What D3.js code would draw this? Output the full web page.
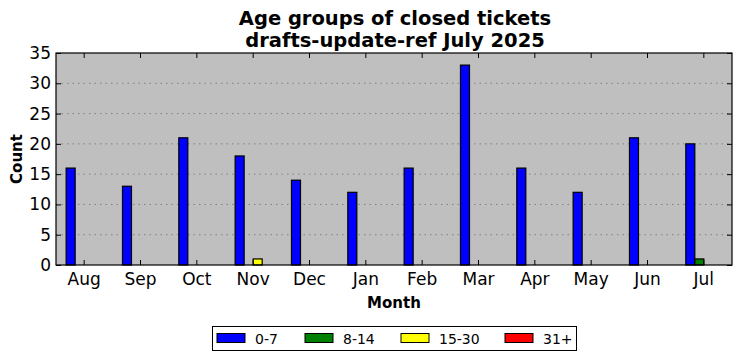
<!DOCTYPE html>
<html><head><meta charset="utf-8">
<script src="https://cdn.jsdelivr.net/npm/d3@7"></script>
<style>body{margin:0;background:#fff}svg{display:block;font-family:"DejaVu Sans",sans-serif}</style>
</head><body><svg id="c" width="742" height="361"></svg>
<script>
const months = ["Aug","Sep","Oct","Nov","Dec","Jan","Feb","Mar","Apr","May","Jun","Jul"];
const seriesNames = ["0-7","8-14","15-30","31+"];
const seriesColors = ["#0000ff","#008000","#ffff00","#ff0000"];
const age0to7 = [16,13,21,18,14,12,16,33,16,12,21,20];
const age8to14 = [0,0,0,0,0,0,0,0,0,0,0,1];
const age15to30 = [0,0,0,1,0,0,0,0,0,0,0,0];
const age31plus = [0,0,0,0,0,0,0,0,0,0,0,0];
const yTicks = [0,5,10,15,20,25,30,35];
const seriesValues = [age0to7, age8to14, age15to30, age31plus];

const svg = d3.select("#c");
const L=56, R=732, T=53, B=265;
const x = d3.scaleBand().domain(months).range([L,R]).padding(0);
const y = d3.scaleLinear().domain([0,35]).range([B,T]);
const bw = x.bandwidth()*0.16;

svg.append("rect").attr("x",L).attr("y",T).attr("width",R-L).attr("height",B-T).attr("fill","#bfbfbf");

// grid
svg.append("g").selectAll("line").data(yTicks.slice(1,-1)).join("line")
  .attr("x1",L).attr("x2",R).attr("y1",d=>y(d)).attr("y2",d=>y(d))
  .attr("stroke","#808080").attr("stroke-width",1).attr("stroke-dasharray","1.5,4");

// bars
seriesValues.forEach((vals,si)=>{
  svg.append("g").selectAll("rect").data(months).join("rect")
    .attr("x",(m)=>x(m)+x.bandwidth()/2-2*bw+si*bw)
    .attr("width",bw)
    .attr("y",(m,i)=>y(vals[i]))
    .attr("height",(m,i)=>y(0)-y(vals[i]))
    .attr("fill",seriesColors[si]).attr("stroke","#000").attr("stroke-width",1.2);
});

// axes frame
svg.append("rect").attr("x",L).attr("y",T).attr("width",R-L).attr("height",B-T).attr("fill","none").attr("stroke","#000").attr("stroke-width",1.2);

const fs = "17px";
const xb = svg.append("g").attr("transform",`translate(0,${B})`).call(d3.axisBottom(x).tickSizeInner(-5).tickSizeOuter(0).tickPadding(8));
const xt = svg.append("g").attr("transform",`translate(0,${T})`).call(d3.axisTop(x).tickSizeInner(-5).tickSizeOuter(0).tickFormat(""));
const yl = svg.append("g").attr("transform",`translate(${L},0)`).call(d3.axisLeft(y).tickValues(yTicks).tickSizeInner(-5).tickSizeOuter(0).tickPadding(5));
const yr = svg.append("g").attr("transform",`translate(${R},0)`).call(d3.axisRight(y).tickValues(yTicks).tickSizeInner(-5).tickSizeOuter(0).tickFormat(""));
[xb,xt,yl,yr].forEach(g=>{
  g.select(".domain").remove();
  g.selectAll("line").attr("stroke","#000");
  g.selectAll("text").attr("font-family","DejaVu Sans").attr("font-size",fs).attr("fill","#000");
});

// titles
const title = svg.append("text").attr("text-anchor","middle").attr("font-weight","bold").attr("font-size","19.5px");
title.append("tspan").attr("x",395).attr("y",25).text("Age groups of closed tickets");
title.append("tspan").attr("x",395).attr("y",47).text("drafts-update-ref July 2025");
svg.append("text").attr("x",394).attr("y",308).attr("text-anchor","middle").attr("font-weight","bold").attr("font-size","15px").text("Month");
svg.append("text").attr("transform","translate(22,159) rotate(-90)").attr("text-anchor","middle").attr("font-weight","bold").attr("font-size","15px").text("Count");

// legend
const lg = svg.append("g");
lg.append("rect").attr("x",212.5).attr("y",326.5).attr("width",364).attr("height",24).attr("fill","#fff").attr("stroke","#000");
const lx = [217,305,401,505];
seriesNames.forEach((n,i)=>{
  lg.append("rect").attr("x",lx[i]).attr("y",333.5).attr("width",28).attr("height",9).attr("fill",seriesColors[i]).attr("stroke","#000");
  lg.append("text").attr("x",lx[i]+38).attr("y",343.5).attr("font-size","14px").text(n);
});
</script></body></html>
